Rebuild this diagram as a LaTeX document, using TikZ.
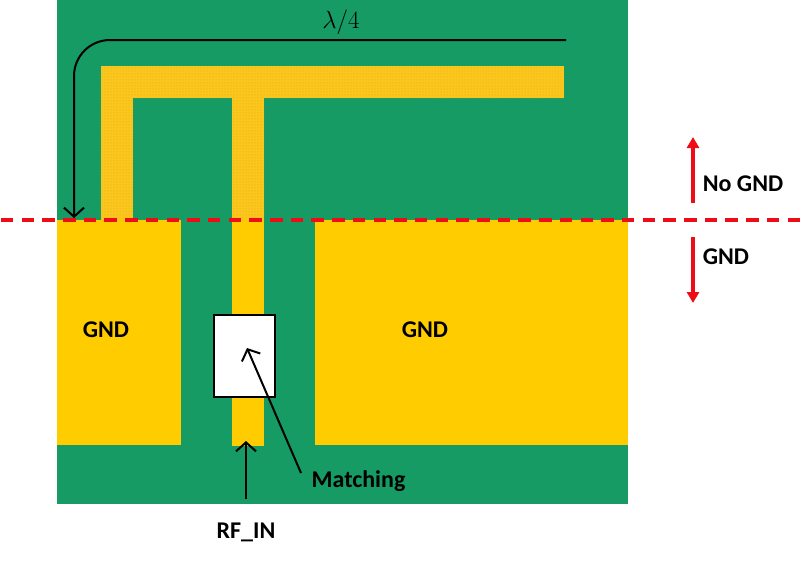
\documentclass[tikz,border=0pt]{standalone}
\usepackage{amsmath}
\usepackage{fontspec}
\setmainfont{Carlito}
\usetikzlibrary{arrows.meta,patterns}
\definecolor{boardgreen}{HTML}{159B63}
\definecolor{padgold}{HTML}{FFCC00}
\definecolor{tracegold}{HTML}{FBC71C}
\definecolor{tracedot}{HTML}{D9A520}
\definecolor{cutred}{HTML}{EE0C16}

\begin{document}
\begin{tikzpicture}[x=1pt,y=-1pt,font=\fontsize{24}{28}\selectfont\bfseries]
  \tikzstyle{block} = [rectangle, anchor=north west, inner sep=0pt, outer sep=0pt]
  \tikzstyle{board} = [block, fill=boardgreen]
  \tikzstyle{pad} = [block, fill=padgold]
  \tikzstyle{trace} = [block, fill=tracegold, postaction={pattern=dots, pattern color=tracedot}]
  \tikzstyle{blackarrow} = [draw=black, line width=2pt, -{Straight Barb[length=9pt,width=20pt,line width=2pt]}]
  \tikzstyle{redarrow} = [draw=cutred, line width=4pt, -{Triangle[length=11pt,width=12pt]}]
  \useasboundingbox (0,0) rectangle (801,560);

  % Define nodes
  \node[board, minimum width=571pt, minimum height=504pt] (board) at (57,0) {};
  \node[pad, minimum width=124pt, minimum height=225pt] (gndleft) at (57,220) {};
  \node[pad, minimum width=313pt, minimum height=225pt] (gndright) at (315,220) {};
  \node[pad, minimum width=32pt, minimum height=226pt] (feed) at (232,220) {};
  \node[trace, minimum width=463pt, minimum height=32pt] (arm) at (101,66) {};
  \node[trace, minimum width=32pt, minimum height=122pt] (short) at (101,98) {};
  \node[trace, minimum width=32pt, minimum height=122pt] (stem) at (232,98) {};
  \node[block, fill=white, draw=black, line width=2pt, minimum width=61pt, minimum height=82pt] (match) at (213.5,314.5) {};

  % Labels
  \node (gndl) at (106,330) {GND};
  \node (gndr) at (425,330) {GND};
  \node (lambda) at (341,22) {\fontsize{25}{28}\selectfont$\lambda/4$};
  \node (matching) at (358.5,481) {Matching};
  \node (rfin) at (246,532) {RF\_IN};
  \node (nognd) at (743,184) {No GND};
  \node (gndside) at (726,257) {GND};

  % Free ends
  \coordinate (lenstart) at (566,40);
  \coordinate (lenend) at (74,218);
  \coordinate (matchtip) at (247,348);
  \coordinate (matchtail) at (301,473);
  \coordinate (rftail) at (246,499);
  \coordinate (rftip) at (246,441);
  \coordinate (upfrom) at (693,203);
  \coordinate (upto) at (693,137);
  \coordinate (downfrom) at (693,237);
  \coordinate (downto) at (693,303);
  \coordinate (cutleft) at (0.9,220);
  \coordinate (cutright) at (801,220);

  \draw [blackarrow, rounded corners=36pt] (lenstart) -| (lenend);
  \path
    (matchtail) edge [blackarrow] (matchtip)
    (rftail) edge [blackarrow] (rftip)
    (upfrom) edge [redarrow] (upto)
    (downfrom) edge [redarrow] (downto);
  \draw [cutred, line width=3.2pt, dash pattern=on 12.5pt off 8.2pt] (cutleft) -- (cutright);
\end{tikzpicture}
\end{document}
